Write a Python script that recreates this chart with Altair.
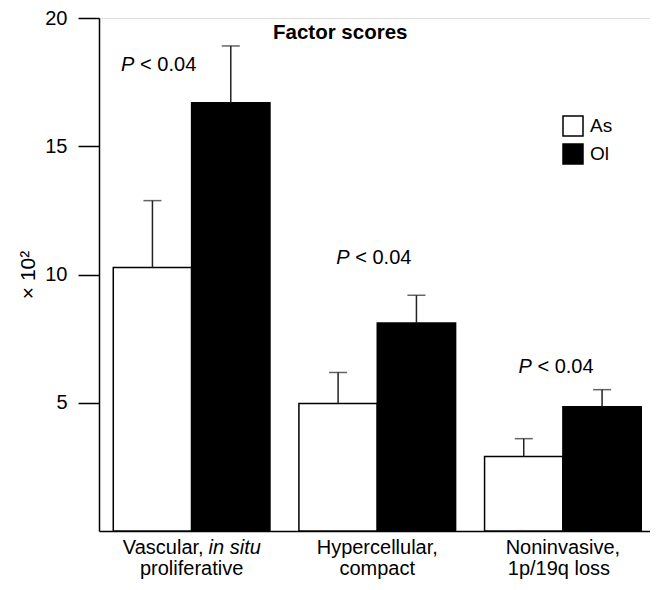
import altair as alt
import pandas as pd

# ---- data ----
categories = ["Vascular", "Hypercellular", "Noninvasive"]
groups = ["As", "Ol"]
as_means = [10.27, 4.97, 2.90]
as_errs = [2.61, 1.21, 0.70]
ol_means = [16.70, 8.11, 4.84]
ol_errs = [2.21, 1.08, 0.67]
p_text = ["< 0.04", "< 0.04", "< 0.04"]
p_label_y = [17.94, 10.42, 6.16]
label_line1 = ["Vascular,", "Hypercellular,", "Noninvasive,"]
label_line1_italic = ["in situ", "", ""]
label_line2 = ["proliferative", "compact", "1p/19q loss"]
y_ticks = [5, 10, 15, 20]
chart_title = ["Factor scores"]

# ---- styles / layout (pixels) ----
FONT = "Liberation Sans"
W, H = 551, 513
p_label_shift = [-33, -3.5, -7]
line2_shift = [0, 0, -4]

rows = []
for i, c in enumerate(categories):
    rows.append({"category": c, "group": "As", "mean": as_means[i], "top": as_means[i] + as_errs[i]})
    rows.append({"category": c, "group": "Ol", "mean": ol_means[i], "top": ol_means[i] + ol_errs[i]})
df = pd.DataFrame(rows)

df_p = pd.DataFrame({"category": categories, "y": p_label_y, "txt": p_text})
df_lab = pd.DataFrame({"category": categories, "l1": label_line1, "l1i": label_line1_italic, "l2": label_line2})
df_title = pd.DataFrame({"t": chart_title})

x_enc = alt.X("category:N", sort=categories,
              scale=alt.Scale(paddingInner=0.156, paddingOuter=0.062, align=0.62),
              axis=alt.Axis(labels=False, ticks=False, title=None, domainColor="black", domainWidth=1.5))
xo_enc = alt.XOffset("group:N", sort=groups, scale=alt.Scale(paddingInner=0, paddingOuter=0))
y_axis = alt.Axis(values=y_ticks, tickSize=21, tickColor="black", tickWidth=1.5,
                  domainColor="black", domainWidth=1.5, labelFontSize=20, labelFont=FONT,
                  labelColor="black", labelPadding=11, grid=False,
                  title="× 10²", titleFontSize=21, titleFont=FONT, titleFontWeight="normal",
                  titleColor="black", titlePadding=6)
y_scale = alt.Scale(domain=[0, 20], nice=False, zero=True)

base = alt.Chart(df)
bars = base.mark_bar(stroke="black", strokeWidth=1.5).encode(
    x=x_enc, xOffset=xo_enc,
    y=alt.Y("mean:Q", scale=y_scale, axis=y_axis),
    fill=alt.Fill("group:N", sort=groups,
                  scale=alt.Scale(domain=groups, range=["white", "black"]),
                  legend=alt.Legend(title=None, orient="none", legendX=463, legendY=97,
                                    symbolType="square", symbolSize=400,
                                    symbolStrokeColor="black", symbolStrokeWidth=1.5,
                                    labelFontSize=19, labelFont=FONT, labelColor="black",
                                    labelOffset=6, rowPadding=2, padding=0)),
)
rules = base.mark_rule(color="#222222", strokeWidth=1.5).encode(
    x=x_enc, xOffset=xo_enc,
    y=alt.Y("mean:Q", scale=y_scale, axis=y_axis), y2="top:Q")
caps = base.mark_tick(color="#222222", thickness=1.5, size=18).encode(
    x=x_enc, xOffset=xo_enc,
    y=alt.Y("top:Q", scale=y_scale, axis=y_axis))

title_mark = alt.Chart(df_title).mark_text(
    fontSize=20.5, fontWeight="bold", font=FONT, align="left", baseline="alphabetic", color="black"
).encode(x=alt.value(174), y=alt.value(21), text="t:N")

layers = [bars, rules, caps, title_mark]

for i, c in enumerate(categories):
    pc = alt.Chart(df_p).transform_filter(alt.datum.category == c)
    left = p_label_shift[i] - 37.5
    layers.append(pc.mark_text(text="P", fontStyle="italic", fontSize=20, font=FONT, align="left",
                               baseline="alphabetic", dx=left, color="black").encode(
        x=x_enc, y=alt.Y("y:Q", scale=y_scale, axis=y_axis)))
    layers.append(pc.mark_text(fontSize=20, font=FONT, align="left", baseline="alphabetic",
                               dx=left + 19, color="black").encode(
        x=x_enc, y=alt.Y("y:Q", scale=y_scale, axis=y_axis), text="txt:N"))

    lc = alt.Chart(df_lab).transform_filter(alt.datum.category == c)
    if label_line1_italic[i]:
        layers.append(lc.mark_text(fontSize=20, font=FONT, align="right", baseline="alphabetic",
                                   dx=12, color="black").encode(
            x=x_enc, y=alt.value(H + 23), text="l1:N"))
        layers.append(lc.mark_text(fontSize=20, font=FONT, fontStyle="italic", align="left",
                                   baseline="alphabetic", dx=17, color="black").encode(
            x=x_enc, y=alt.value(H + 23), text="l1i:N"))
    else:
        layers.append(lc.mark_text(fontSize=20, font=FONT, align="center", baseline="alphabetic",
                                   color="black").encode(
            x=x_enc, y=alt.value(H + 23), text="l1:N"))
    layers.append(lc.mark_text(fontSize=20, font=FONT, align="center", baseline="alphabetic",
                               dx=line2_shift[i], color="black").encode(
        x=x_enc, y=alt.value(H + 44), text="l2:N"))

chart = alt.layer(*layers).properties(
    width=W, height=H,
    autosize=alt.AutoSizeParams(type="none"),
    padding={"left": 91, "top": 10, "right": 0, "bottom": 50},
).configure_view(stroke=None).configure(font=FONT)

chart.save("out.html", embed_options={"renderer": "svg", "actions": False})
